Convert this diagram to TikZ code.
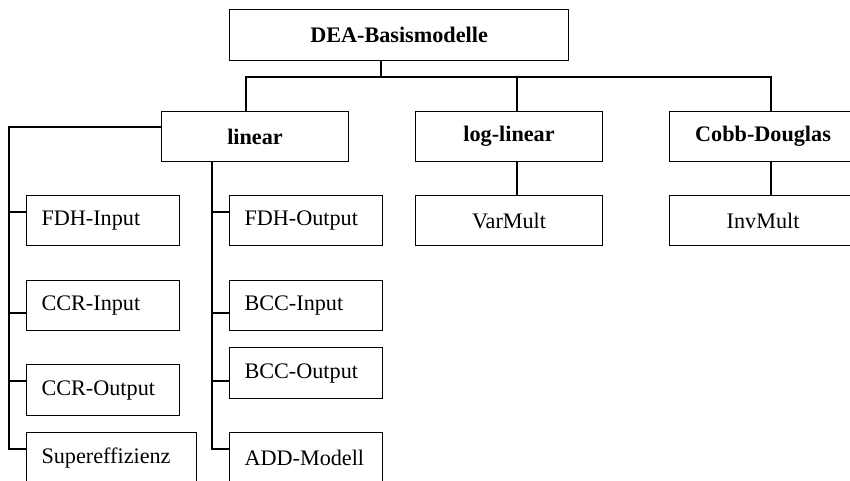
\documentclass[tikz,border=0pt]{standalone}
\usepackage{fontspec}
\setmainfont{Liberation Serif}
\begin{document}
\begin{tikzpicture}[x=1pt,y=-1pt,line width=1.1pt,
  box/.style={draw,line width=1.1pt,anchor=north west,inner sep=0pt,
    font=\fontsize{22.2}{26}\selectfont},
  head/.style={box,font=\fontsize{22.2}{26}\selectfont\bfseries,align=center},
  leaf/.style={box,align=left,inner xsep=15pt}]
\useasboundingbox (0,0) rectangle (850,480);
\clip (0,0) rectangle (850,480);
% top level
\node[head,minimum width=339pt,minimum height=51pt] (dea) at (229,9) {DEA-Basismodelle};
\node[head,minimum width=187pt,minimum height=50pt] (lin) at (161,111) {linear};
\node[head,minimum width=187pt,minimum height=50pt] (loglin) at (415,111) {log-linear};
\node[head,minimum width=187pt,minimum height=50pt] (cobb) at (669,111) {Cobb-Douglas};
\node[box,align=center,minimum width=187pt,minimum height=50pt] (varmult) at (415,195) {VarMult};
\node[box,align=center,minimum width=187pt,minimum height=50pt] (invmult) at (669,195) {InvMult};
% left column
\node[leaf,text width=123pt,minimum height=50pt] (fdhin) at (26,195) {FDH-Input};
\node[leaf,text width=123pt,minimum height=50pt] (ccrin) at (26,280) {CCR-Input};
\node[leaf,text width=123pt,minimum height=51pt] (ccrout) at (26,364) {CCR-Output};
\node[leaf,text width=140pt,minimum height=51pt] (super) at (26,432) {Supereffizienz};
% right column
\node[leaf,text width=123pt,minimum height=50pt] (fdhout) at (229,195) {FDH-Output};
\node[leaf,text width=123pt,minimum height=50pt] (bccin) at (229,280) {BCC-Input};
\node[leaf,text width=123pt,minimum height=51pt] (bccout) at (229,347) {BCC-Output};
\node[leaf,text width=123pt,minimum height=51pt] (add) at (229,432) {ADD-Modell};
% coordinates
\coordinate (hT) at (381,77);
\coordinate (hL) at (246,77);
\coordinate (hM) at (517,77);
\coordinate (hR) at (771,77);
\coordinate (lw) at (161,127);
\coordinate (lx) at (9,127);
\coordinate (rx) at (212,0);
% connectors
\draw (dea.south -| hT) -- (hT);
\draw (lin.north -| hL) |- (hR) -- (cobb.north -| hR);
\draw (hM) -- (loglin.north -| hM);
\draw (loglin.south -| hM) -- (varmult.north -| hM);
\draw (cobb.south -| hR) -- (invmult.north -| hR);
% left branch
\draw (lw) -- (lx) |- (super.west |- 0,449);
\draw (lx |- 0,212) -- (fdhin.west |- 0,212);
\draw (lx |- 0,313) -- (ccrin.west |- 0,313);
\draw (lx |- 0,381) -- (ccrout.west |- 0,381);
% right branch
\draw (lin.south -| rx) |- (add.west |- 0,449);
\draw (rx |- 0,212) -- (fdhout.west |- 0,212);
\draw (rx |- 0,313) -- (bccin.west |- 0,313);
\draw (rx |- 0,381) -- (bccout.west |- 0,381);
\end{tikzpicture}
\end{document}
